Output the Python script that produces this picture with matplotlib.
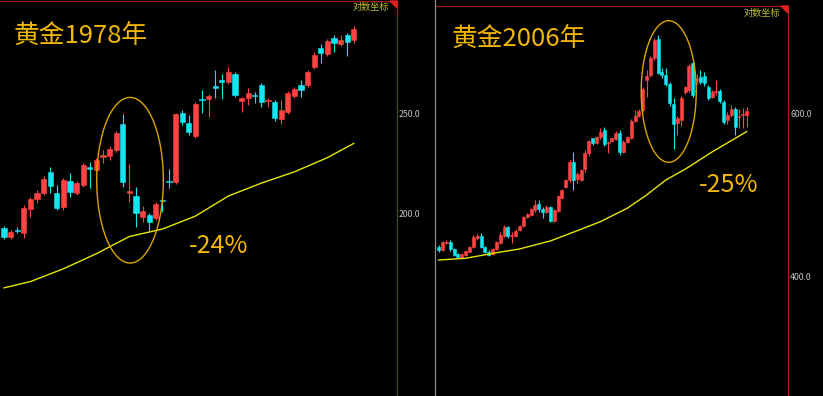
import numpy as np
import matplotlib
matplotlib.use('Agg')
import matplotlib.pyplot as plt
from matplotlib.patches import Polygon
from matplotlib.lines import Line2D
from matplotlib.ticker import FixedLocator, FixedFormatter, NullLocator

plt.rcParams['font.family'] = ['Noto Sans CJK SC', 'DejaVu Sans']

# ---------------- data: gold 1978 (weekly candles) ----------------
left_open = [193.5, 189.6, 192.4, 191.3, 201.9, 206.5, 209.3, 219.5, 209.3, 202.9,
             215.1, 209.3, 213.2, 222.0, 220.4, 227.0, 227.6, 230.6, 244.5, 209.3,
             207.9, 198.3, 199.2, 197.9, 205.9, 214.9, 214.6, 250.6, 245.1, 238.0,
             258.6, 258.6, 266.0, 269.8, 268.6, 273.6, 257.4, 259.1, 261.1, 266.6,
             257.6, 256.8, 247.2, 251.1, 260.3, 266.6, 266.6, 278.0, 290.1, 286.2,
             296.6, 292.6, 298.6, 295.2]
left_high = [194.4, 192.6, 193.9, 203.8, 207.5, 210.8, 217.5, 222.0, 213.2, 216.5,
             219.0, 215.1, 224.0, 224.5, 226.5, 230.6, 232.7, 240.7, 250.0, 223.4,
             212.3, 203.3, 200.1, 205.2, 207.5, 220.9, 250.6, 252.3, 249.4, 256.8,
             263.9, 261.5, 276.0, 273.6, 278.0, 274.8, 259.6, 265.0, 262.6, 267.8,
             259.1, 258.0, 258.0, 263.3, 265.6, 269.8, 276.0, 287.6, 292.8, 296.0,
             298.6, 298.6, 300.0, 304.6]
left_low = [188.7, 188.7, 191.3, 189.2, 198.3, 204.7, 208.3, 209.3, 201.5, 201.5,
            207.5, 208.3, 212.3, 211.7, 219.5, 224.0, 225.5, 229.5, 212.3, 205.2,
            194.0, 196.1, 191.7, 197.0, 200.6, 211.7, 213.7, 243.9, 238.5, 236.9,
            250.6, 248.3, 259.1, 258.6, 267.4, 259.6, 251.1, 255.1, 256.2, 254.0,
            254.0, 246.1, 244.5, 250.0, 259.1, 259.6, 265.6, 276.6, 280.3, 284.9,
            287.6, 291.4, 284.9, 293.3]
left_close = [189.6, 191.7, 192.1, 202.4, 206.5, 209.3, 216.0, 212.7, 202.4, 215.6,
              209.8, 214.2, 222.9, 221.0, 225.5, 228.1, 231.1, 239.6, 214.6, 210.3,
              200.1, 201.0, 196.1, 204.3, 205.4, 214.4, 250.0, 245.6, 240.1, 255.7,
              258.2, 260.3, 264.8, 268.6, 274.8, 260.8, 259.1, 262.0, 260.5, 256.8,
              258.0, 247.8, 252.3, 262.0, 264.4, 263.9, 274.8, 285.5, 286.9, 294.6,
              293.3, 295.2, 294.0, 302.6]
left_ma_week = [1, 5, 10, 15, 20, 25, 30, 35, 40, 45, 50, 54]
left_ma_value = [169.1, 171.5, 176.5, 182.6, 189.8, 193.0, 198.7, 207.9, 214.0, 219.5, 226.6, 234.0]
left_ticks = [200, 250]
left_tick_labels = ['200.0', '250.0']

# ---------------- data: gold 2006 (weekly candles) ----------------
right_open = [430.3, 427.4, 435.3, 436.4, 428.1, 423.0, 419.7, 421.9, 425.6, 430.3,
              439.8, 442.6, 430.3, 425.6, 423.3, 428.1, 435.3, 442.6, 452.2, 442.0,
              442.6, 449.2, 453.7, 463.7, 466.3, 472.0, 478.8, 472.9, 470.1, 475.3,
              459.7, 471.2, 486.1, 499.5, 508.5, 532.0, 509.5, 508.5, 522.2, 544.1,
              563.9, 557.2, 565.3, 575.6, 557.6, 560.6, 562.5, 570.8, 545.6, 559.2,
              563.9, 589.1, 596.0, 604.9, 651.7, 659.8, 687.7, 720.9, 665.3, 659.8,
              645.2, 614.0, 585.4, 590.1, 633.1, 635.7, 679.2, 651.7, 657.0, 658.2,
              640.0, 625.2, 632.5, 634.6, 617.5, 590.1, 597.5, 606.0, 594.0, 598.0,
              597.5]
right_high = [432.7, 437.5, 438.2, 438.2, 429.3, 424.1, 424.1, 427.4, 431.7, 443.7,
              444.8, 445.9, 431.4, 427.4, 429.5, 437.5, 447.2, 454.8, 453.7, 446.8,
              450.3, 455.0, 465.0, 469.0, 474.5, 483.9, 483.9, 475.3, 478.0, 476.5,
              473.5, 489.9, 497.5, 510.0, 534.4, 545.6, 518.5, 523.0, 547.8, 561.5,
              565.0, 567.0, 578.0, 580.0, 559.5, 565.0, 574.0, 575.6, 561.0, 567.0,
              591.0, 604.9, 606.0, 640.5, 668.1, 691.5, 723.3, 728.7, 671.5, 671.5,
              648.4, 623.0, 596.0, 626.0, 642.0, 678.0, 684.9, 662.0, 668.1, 665.0,
              643.5, 635.7, 651.7, 637.5, 620.1, 601.9, 612.3, 609.4, 606.0, 607.5,
              609.4]
right_low = [425.6, 426.1, 434.2, 426.4, 420.9, 418.6, 418.6, 421.0, 424.8, 429.5,
             438.2, 429.5, 424.5, 420.9, 421.9, 427.4, 433.9, 441.5, 440.3, 435.3,
             441.5, 448.0, 452.5, 462.5, 465.0, 469.7, 470.0, 463.0, 468.5, 458.0,
             458.5, 470.1, 485.0, 498.0, 505.5, 496.0, 505.0, 507.0, 518.3, 540.0,
             554.0, 555.5, 563.5, 553.5, 543.7, 559.0, 561.0, 541.0, 544.0, 557.5,
             562.5, 587.0, 594.5, 603.0, 624.9, 657.0, 684.9, 661.4, 654.1, 642.0,
             610.9, 549.1, 568.5, 581.5, 629.5, 632.5, 624.5, 645.0, 645.2, 642.0,
             620.1, 622.5, 628.0, 616.0, 584.2, 584.2, 594.6, 568.5, 578.0, 578.0,
             580.4]
right_close = [427.4, 436.4, 436.4, 428.1, 421.9, 419.7, 423.0, 426.6, 430.6, 441.8,
               442.6, 430.3, 425.6, 421.9, 428.1, 436.4, 443.7, 452.2, 442.6, 443.2,
               448.5, 453.7, 463.7, 467.5, 472.9, 477.9, 472.9, 470.1, 476.0, 459.7,
               472.0, 488.6, 496.0, 508.5, 532.0, 508.5, 516.0, 521.3, 543.3, 560.1,
               557.2, 565.3, 573.1, 556.3, 558.3, 563.9, 571.6, 545.6, 559.2, 565.3,
               589.1, 596.0, 603.9, 636.9, 658.2, 687.7, 719.7, 663.6, 659.8, 645.2,
               615.1, 584.2, 592.7, 622.6, 640.0, 674.7, 627.9, 652.5, 649.0, 646.4,
               622.7, 633.1, 633.7, 619.1, 587.6, 597.5, 606.0, 580.4, 595.5, 599.0,
               603.9]
right_ma_week = [1, 8, 16, 22, 30, 37, 43, 50, 55, 60, 65, 72, 81]
right_ma_value = [416.9, 418.7, 424.5, 428.5, 437.1, 448.4, 458.5, 474.1, 489.9, 508.5, 522.2, 545.1, 573.3]
right_ticks = [400, 600]
right_tick_labels = ['400.0', '600.0']

titles = ['黄金1978年', '黄金2006年']
drops = ['-24%', '-25%']
scale_label = '对数坐标'
# highlighted pullback: centre week, half width (weeks), top price, bottom price
left_ellipse = (20.1, 5.05, 259.5, 178.8)
right_ellipse = (60.75, 7.15, 755.0, 531.3)

UP = '#ff4242'
DOWN = '#14e6f0'
MA_C = '#e6e600'
ELL_C = '#dca400'
TXT_C = '#f2b705'
BORDER = '#a01e1e'
W, H = 823, 396

fig = plt.figure(figsize=(W / 100, H / 100), dpi=100, facecolor='black')


def panel(rect, o, h, l, c, ma_w, ma_v, ticks, tlabels, xlim, ylim, bw, ell,
          title, title_pos, drop, drop_pos, scale_pos):
    ax = fig.add_axes(rect)
    ax.set_facecolor('black')
    ax.set_yscale('log')
    o, h, l, c = map(np.asarray, (o, h, l, c))
    idx = np.arange(1, len(o) + 1)
    up = c >= o
    cols = np.where(up, UP, DOWN)
    ax.vlines(idx, l, h, colors=cols, linewidth=0.8, zorder=2)
    bottoms = np.minimum(o, c)
    heights = np.abs(c - o)
    ax.bar(idx, heights, bottom=bottoms, width=bw, color=cols,
           edgecolor=cols, linewidth=0.4, zorder=3)
    ax.plot(ma_w, ma_v, color=MA_C, lw=1.0, zorder=4)
    cx, a, top, bot = ell
    t = np.linspace(0, 2 * np.pi, 300)
    lt, lb = np.log10(top), np.log10(bot)
    ax.plot(cx + a * np.cos(t), 10 ** ((lt + lb) / 2 + (lt - lb) / 2 * np.sin(t)),
            color=ELL_C, lw=1.0, zorder=5)
    ax.set_xlim(*xlim)
    ax.set_ylim(*ylim)
    ax.yaxis.set_major_locator(FixedLocator(ticks))
    ax.yaxis.set_major_formatter(FixedFormatter(tlabels))
    ax.yaxis.set_minor_locator(NullLocator())
    ax.yaxis.tick_right()
    ax.tick_params(axis='y', length=0, pad=1.5, labelsize=6.3, labelcolor='#c4c4c4')
    ax.set_xticks([])
    for s in ('left', 'bottom'):
        ax.spines[s].set_visible(False)
    for s in ('top', 'right'):
        ax.spines[s].set_color(BORDER)
        ax.spines[s].set_linewidth(0.9)
    # corner triangle
    fw = rect[2] * W
    fh = rect[3] * H
    ax.add_patch(Polygon([[1, 1], [1 - 7 / fw, 1], [1, 1 - 7 / fh]], closed=True,
                         transform=ax.transAxes, color='#e02020', zorder=6,
                         clip_on=False))
    ax.text(title_pos[0], title_pos[1], title, transform=ax.transAxes,
            color=TXT_C, fontsize=18.5, ha='left', va='center')
    ax.text(drop_pos[0], drop_pos[1], drop, transform=ax.transAxes,
            color=TXT_C, fontsize=18, ha='left', va='center')
    ax.text(scale_pos[0], scale_pos[1], scale_label, transform=ax.transAxes,
            color='#c0c030', fontsize=6.6, ha='right', va='center')
    return ax


panel([0, 0, 397 / W, 395 / H], left_open, left_high, left_low, left_close,
      left_ma_week, left_ma_value, left_ticks, left_tick_labels,
      (0.394, 60.55), (132.6, 322.3), 0.8, left_ellipse,
      titles[0], (0.033, 0.911), drops[0], (0.477, 0.38), (0.981, 0.983))

panel([436 / W, 0, 352 / W, 390 / H], right_open, right_high, right_low, right_close,
      right_ma_week, right_ma_value, right_ticks, right_tick_labels,
      (0.30, 91.73), (297.5, 783.0), 0.78, right_ellipse,
      titles[1], (0.0435, 0.915), drops[1], (0.746, 0.541), (0.977, 0.982))

fig.add_artist(Line2D([435 / W, 435 / W], [0, 1], transform=fig.transFigure,
                      color='#8c8c8c', lw=0.9))

fig.savefig('out.png', dpi=100, facecolor='black')
